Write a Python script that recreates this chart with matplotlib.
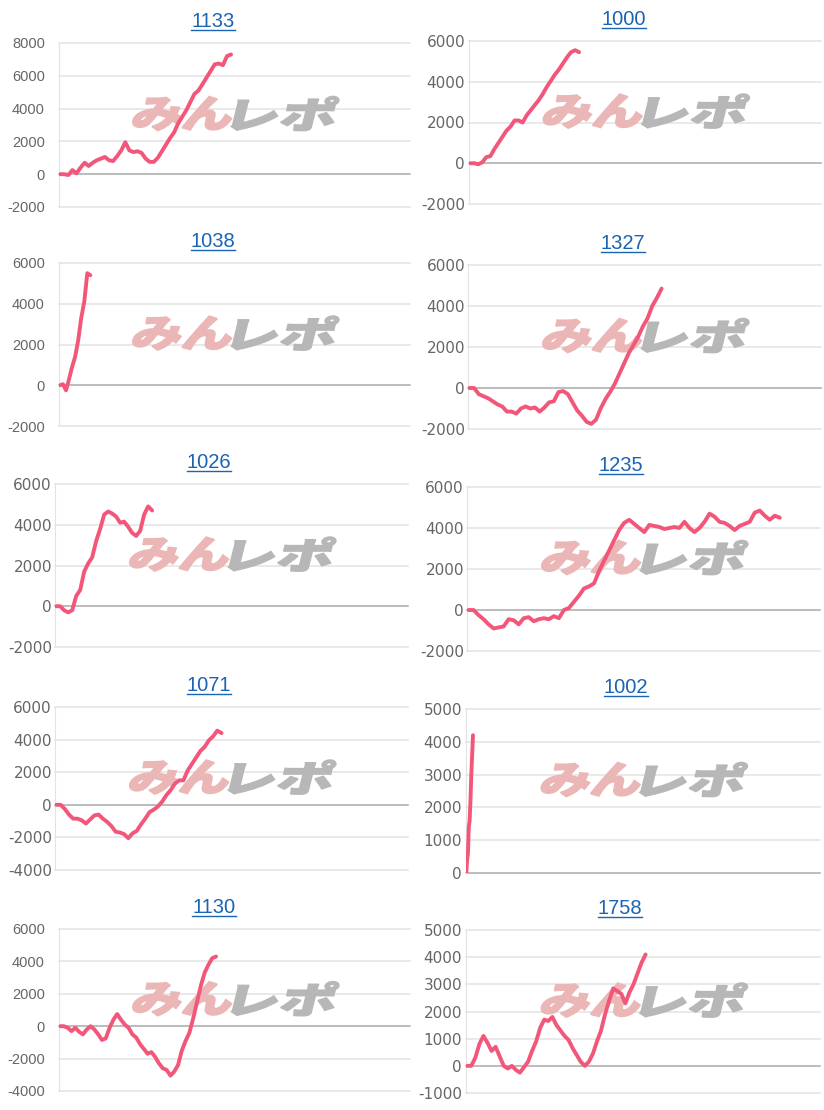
import matplotlib.pyplot as plt
from matplotlib.textpath import TextPath
from matplotlib.font_manager import FontProperties
from matplotlib.patches import PathPatch
from matplotlib.transforms import Affine2D, IdentityTransform
from matplotlib.lines import Line2D

plt.rcParams["axes.unicode_minus"] = False

titles = ["1133", "1000", "1038", "1327", "1026", "1235", "1071", "1002", "1130", "1758"]

v1133 = [0, 0, -50, 250, 50, 400, 700, 500, 700, 850, 950, 1050, 850, 800, 1100, 1450, 1950, 1450,
         1350, 1400, 1300, 950, 750, 750, 1000, 1400, 1800, 2200, 2550, 3100, 3500, 3900, 4400,
         4900, 5100, 5500, 5900, 6300, 6700, 6750, 6650, 7200, 7300]
v1000 = [0, 0, -50, 50, 300, 350, 700, 1000, 1300, 1600, 1800, 2100, 2100, 2000, 2350, 2600, 2850,
         3100, 3400, 3750, 4050, 4350, 4600, 4900, 5200, 5450, 5550, 5450]
v1038 = [0, 50, -250, 300, 900, 1400, 2200, 3300, 4100, 5500, 5400]
v1327 = [0, 0, -300, -400, -500, -650, -800, -900, -1150, -1150, -1250, -1000, -900, -1000, -950,
         -1150, -950, -700, -650, -200, -150, -300, -700, -1100, -1350, -1650, -1750, -1550, -1000,
         -550, -200, 200, 700, 1200, 1700, 2100, 2500, 3000, 3400, 4000, 4400, 4850]
v1026 = [0, 0, -200, -300, -200, 500, 800, 1700, 2100, 2400, 3200, 3800, 4500, 4650, 4550, 4400,
         4100, 4150, 3900, 3600, 3450, 3700, 4500, 4900, 4700]
v1235 = [0, 0, -250, -450, -700, -900, -850, -800, -450, -500, -700, -400, -350, -550, -450, -400,
         -450, -300, -400, 0, 100, 400, 700, 1050, 1150, 1300, 1900, 2400, 2900, 3400, 3900, 4250,
         4400, 4200, 4000, 3800, 4150, 4100, 4050, 3950, 4000, 4050, 4000, 4300, 4000, 3800, 4000,
         4300, 4700, 4550, 4300, 4250, 4100, 3900, 4100, 4200, 4300, 4750, 4850, 4600, 4400, 4600,
         4500]
v1071 = [0, 0, -250, -600, -850, -850, -950, -1150, -900, -650, -600, -850, -1050, -1300, -1650,
         -1700, -1800, -2050, -1750, -1600, -1200, -850, -450, -300, -100, 200, 600, 900, 1300,
         1500, 1500, 2100, 2500, 2900, 3300, 3550, 3950, 4200, 4550, 4400]
v1002 = [0, 400, 600, 1400, 1600, 2200, 3000, 3600, 4200]
v1130 = [0, 0, -100, -300, -100, -350, -500, -200, 0, -200, -500, -850, -750, -100, 400, 750, 400,
         100, -100, -500, -700, -1100, -1400, -1700, -1600, -1900, -2300, -2600, -2700, -3050,
         -2800, -2400, -1500, -900, -400, 500, 1500, 2500, 3300, 3800, 4200, 4300]
v1758 = [0, 0, 300, 800, 1100, 850, 550, 700, 350, 0, -100, 0, -150, -250, -50, 150, 550, 900,
         1400, 1700, 1650, 1800, 1500, 1300, 1100, 950, 650, 400, 150, 0, 150, 450, 900, 1300,
         1900, 2400, 2850, 2750, 2650, 2300, 2700, 3000, 3400, 3800, 4100]
series = [v1133, v1000, v1038, v1327, v1026, v1235, v1071, v1002, v1130, v1758]

# length of each x axis (in samples)
x_len = [86, 87, 115, 75, 88, 70, 83, 420, 92, 87]

y_ticks = [
    [-2000, 0, 2000, 4000, 6000, 8000],
    [-2000, 0, 2000, 4000, 6000],
    [-2000, 0, 2000, 4000, 6000],
    [-2000, 0, 2000, 4000, 6000],
    [-2000, 0, 2000, 4000, 6000],
    [-2000, 0, 2000, 4000, 6000],
    [-4000, -2000, 0, 2000, 4000, 6000],
    [0, 1000, 2000, 3000, 4000, 5000],
    [-4000, -2000, 0, 2000, 4000, 6000],
    [-1000, 0, 1000, 2000, 3000, 4000, 5000],
]

W, H = 824, 1110
# plot boxes in pixels: left, top, right, bottom
boxes = [(59, 43, 410, 207), (469, 41, 821, 204),
         (59, 263, 410, 426), (468, 265, 821, 429),
         (55, 484, 408, 647), (467, 487, 820, 651),
         (55, 707, 408, 870), (466, 709, 820, 873),
         (59, 929, 410, 1091), (466, 930, 820, 1093)]
title_x = [213, 624, 213, 623, 209, 621, 209, 626, 214, 620]
label_gap = [14, 4, 14, 3, 3, 3, 3, 4, 14, 4]
narrow = [0, 2, 8]

line_color = "#f2577a"
wm_font = FontProperties(family="Noto Sans CJK JP", weight="black")

fig = plt.figure(figsize=(W / 100, H / 100), dpi=100)
renderer = fig.canvas.get_renderer()


def logo(ax, txt, color, x0, x1):
    tp = TextPath((0, 0), txt, size=100, prop=wm_font)
    ext = tp.get_extents()
    cx, cy = ax.transAxes.transform((0.5, 0.57))
    tr = (Affine2D().translate(-ext.x0, -ext.y0)
          .scale((x1 - x0) / ext.width, 34 / ext.height)
          .skew_deg(14, 0)
          .translate(cx + x0 - 4, cy - 17))
    ax.add_patch(PathPatch(tp, transform=tr, facecolor=color, edgecolor=color, lw=1.2,
                           zorder=2))


for i, vals in enumerate(series):
    l, t, r, b = boxes[i]
    ax = fig.add_axes([l / W, 1 - b / H, (r - l) / W, (b - t) / H])
    ticks = y_ticks[i]
    ax.set_ylim(ticks[0], ticks[-1])
    ax.set_xlim(-0.3, x_len[i])
    for v in ticks:
        c = "#aaaaaa" if v == 0 else "#e3e3e3"
        ax.axhline(v, color=c, lw=1.1, zorder=1, clip_on=False)
    ax.plot(range(len(vals)), vals, color=line_color, lw=2.8, solid_capstyle="round",
            solid_joinstyle="round", zorder=3)
    for s in ["top", "right", "bottom"]:
        ax.spines[s].set_visible(False)
    ax.spines["left"].set_color("#e3e3e3")
    ax.set_xticks([])
    ax.set_yticks(ticks)
    if i in narrow:
        fam, fs = ["Liberation Sans"], 10.5
    else:
        fam, fs = ["DejaVu Sans"], 11
    ax.tick_params(axis="y", length=0, pad=label_gap[i] * 0.72, labelsize=fs,
                   labelcolor="#666666")
    for lab in ax.get_yticklabels():
        lab.set_family(fam)

    logo(ax, "みん", "#ebb6b6", -100, -2)
    logo(ax, "レポ", "#b7b7b7", 0, 101)

    # linked title with underline
    base = H - (t - 16)
    tt = fig.text(title_x[i] / W, base / H, titles[i], ha="center", va="baseline",
                  fontsize=14.5, color="#1a64b4", family="Liberation Sans")
    bb = tt.get_window_extent(renderer)
    fig.add_artist(Line2D([bb.x0, bb.x1], [base - 2.5, base - 2.5], color="#1a64b4",
                          lw=1.0, transform=IdentityTransform()))

fig.savefig("out.png", dpi=100, facecolor="white")
